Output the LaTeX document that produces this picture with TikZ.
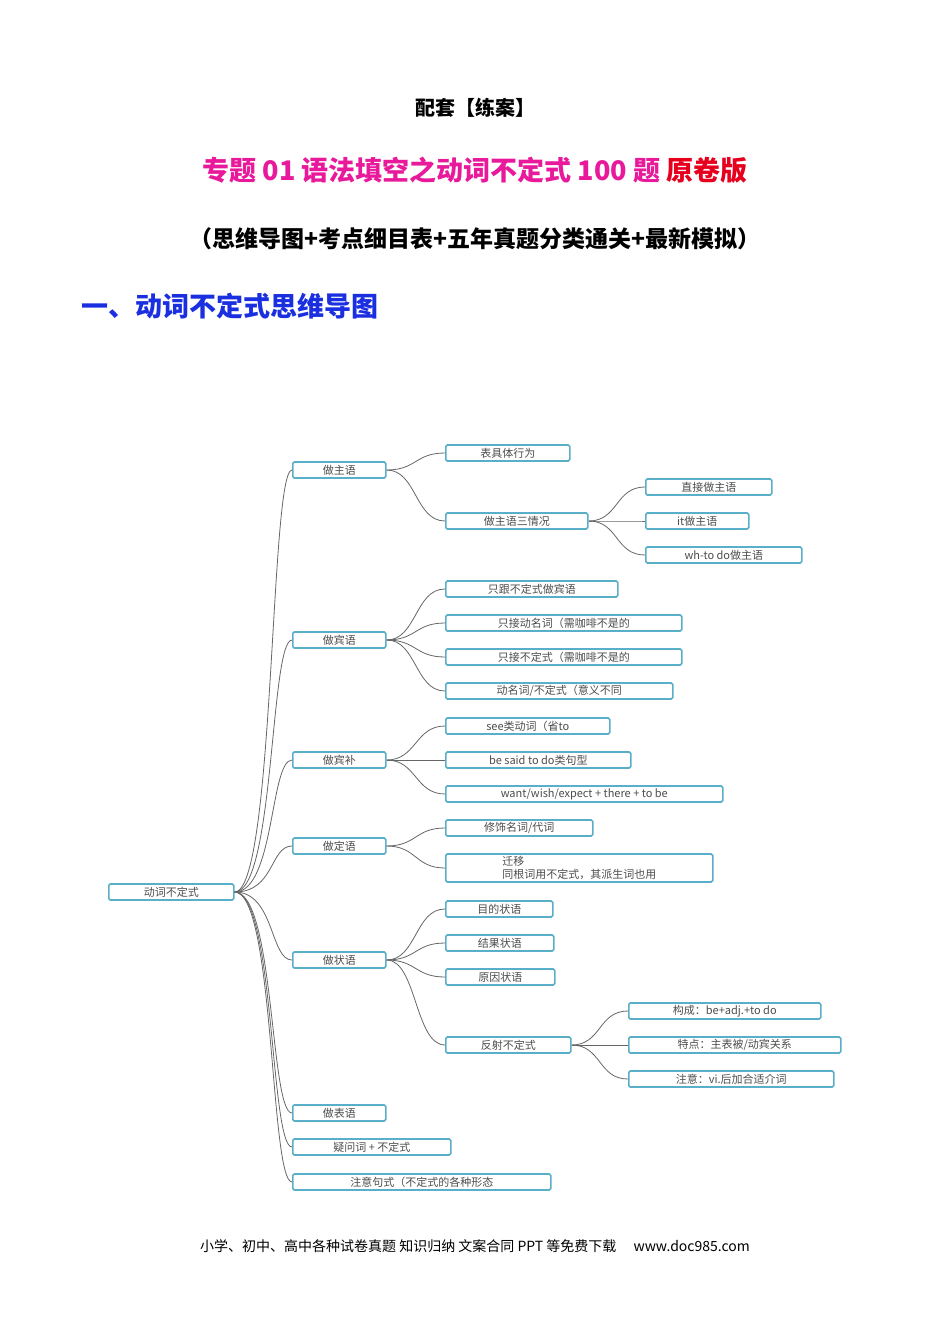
\documentclass[tikz,border=0pt]{standalone}
\usepackage{fontspec}
\setmainfont{Noto Sans CJK SC}
\usetikzlibrary{positioning}
\definecolor{boxblue}{HTML}{5AAFC8}
\definecolor{titlepink}{HTML}{E8199A}
\definecolor{titlered}{HTML}{E6001E}
\definecolor{secblue}{HTML}{1A2FE0}
\tikzset{
  box/.style={draw=boxblue, line width=1.6pt, rounded corners=1.5pt, anchor=west,
    minimum height=16pt, inner sep=2pt, align=center, font=\fontsize{11}{13}\selectfont, text=black!70},
  link/.style={draw=black!60, line width=0.8pt},
}
\begin{document}
\begin{tikzpicture}[x=1pt,y=-1pt]
  \useasboundingbox (0,0) rectangle (950,1344);
  % headings
  \node[font=\fontsize{20}{24}\selectfont\bfseries] (head) at (475,108) {配套【练案】};
  \node[font=\fontsize{27}{32}\selectfont\bfseries] (title) at (475,170)
    {\textcolor{titlepink}{专题 01 语法填空之动词不定式 100 题} \textcolor{titlered}{原卷版}};
  \node[font=\fontsize{23}{28}\selectfont\bfseries] (sub) at (475,239) {（思维导图+考点细目表+五年真题分类通关+最新模拟）};
  \node[font=\fontsize{27}{32}\selectfont\bfseries, text=secblue, anchor=west] (sec) at (78,306) {一、动词不定式思维导图};
  % root
  \node[box, minimum width=125pt] (root) at (108,892) {动词不定式};
  % level 1
  \foreach \n/\y/\w/\t in {zhu/470/93/做主语, bin/640/93/做宾语, bu/760/93/做宾补, ding/846/93/做定语,
      zhuang/960/93/做状语, biao/1113/93/做表语, yiwen/1147/158/疑问词 + 不定式,
      zhuyi/1182/258/注意句式（不定式的各种形态} {
    \node[box, minimum width=\w pt] (\n) at (292,\y) {\t};
    \draw[link] (root.east) .. controls +(40,0) and +(-22,0) .. (\n.west);
  }
  % level 2
  \foreach \p/\n/\y/\w/\t in {zhu/xw/453/124/表具体行为, zhu/sqk/521/142/做主语三情况,
      bin/b1/589/172/只跟不定式做宾语, bin/b2/623/236/只接动名词（需咖啡不是的,
      bin/b3/657/236/只接不定式（需咖啡不是的, bin/b4/691/227/{动名词/不定式（意义不同},
      bu/s1/726/164/see类动词（省to, bu/s2/760/185/be said to do类句型,
      bu/s3/794/277/{want/wish/expect + there + to be},
      ding/d1/828/147/{修饰名词/代词},
      zhuang/z1/909/107/目的状语, zhuang/z2/943/108/结果状语, zhuang/z3/977/109/原因状语,
      zhuang/fs/1045/125/反射不定式} {
    \node[box, minimum width=\w pt] (\n) at (445,\y) {\t};
    \draw[link] (\p.east) .. controls +(30,0) and +(-30,0) .. (\n.west);
  }
  \node[box, minimum width=267pt, minimum height=28pt, align=left] (d2) at (445,868)
    {迁移\\同根词用不定式，其派生词也用};
  \draw[link] (ding.east) .. controls +(30,0) and +(-30,0) .. (d2.west);
  % level 3
  \foreach \p/\n/\x/\y/\w/\t in {sqk/q1/645/487/126/直接做主语, sqk/q2/645/521/103/it做主语,
      sqk/q3/645/555/156/wh-to do做主语,
      fs/f1/628/1011/192/构成：be+adj.+to do, fs/f2/628/1045/212/{特点：主表被/动宾关系},
      fs/f3/628/1079/205/注意：vi.后加合适介词} {
    \node[box, minimum width=\w pt] (\n) at (\x,\y) {\t};
    \draw[link] (\p.east) .. controls +(30,0) and +(-30,0) .. (\n.west);
  }
  % footer
  \node[font=\fontsize{14}{16}\selectfont] (foot) at (475,1246)
    {小学、初中、高中各种试卷真题 知识归纳 文案合同 PPT 等免费下载 \quad www.doc985.com};
\end{tikzpicture}
\end{document}
